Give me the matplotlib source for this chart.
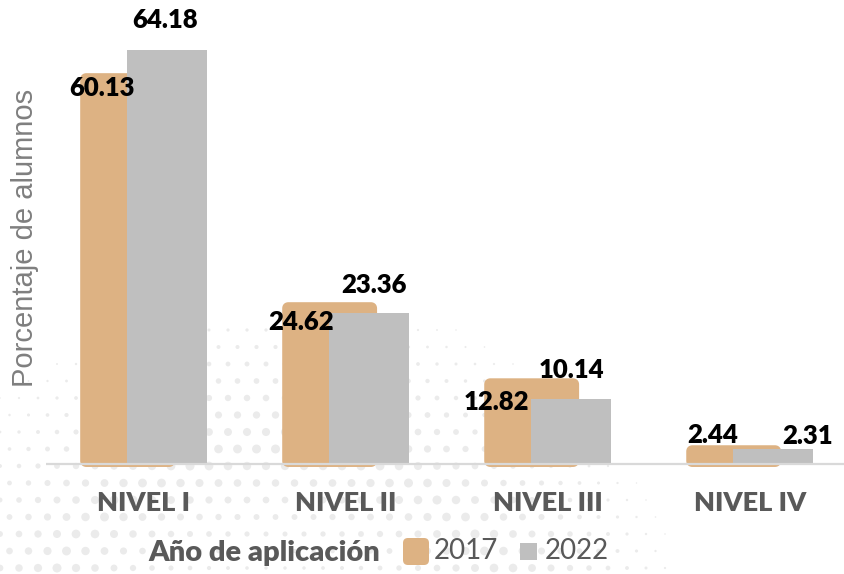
import numpy as np
import matplotlib.pyplot as plt
from matplotlib.patches import FancyBboxPatch, Rectangle

# datos
niveles = ['NIVEL I', 'NIVEL II', 'NIVEL III', 'NIVEL IV']
pct_2017 = [60.13, 24.62, 12.82, 2.44]
pct_2022 = [64.18, 23.36, 10.14, 2.31]
anios = ['2017', '2022']

col_2017 = '#DDB283'
col_2022 = '#BFBFBF'
gris_txt = '#595959'

W, H = 845, 574
fig = plt.figure(figsize=(W / 100, H / 100), dpi=100)

# fondo con puntos (pixeles, origen arriba a la izquierda)
bg = fig.add_axes([0, 0, 1, 1], zorder=0)
bg.set_xlim(0, W)
bg.set_ylim(H, 0)
bg.axis('off')

gx, gy = np.meshgrid(np.arange(0, W, 19.0), np.arange(330, H + 10, 17.0))
gx = gx + (np.arange(gx.shape[0])[:, None] % 2) * 9.5
d = np.hypot(gx - 280, gy - 720)
tam = np.clip(1 - np.abs(d - 270) / 190, 0, 1) * 9
m = tam > 1.5
bg.scatter(gx[m], gy[m], s=(tam[m] * 0.72) ** 2, color='#EBEBEB', lw=0, zorder=0)

# eje principal
y0, y1 = -0.5, 70
left, right = 46, 845
base_px, top_px = 464 + 3.2, 464 - 6.45 * y1
ax = fig.add_axes([left / W, 1 - base_px / H, (right - left) / W, (base_px - top_px) / H], zorder=1)
ax.patch.set_alpha(0)
ax.set_ylim(y0, y1)
ax.set_xlim(-0.483, 3.472)

x = np.arange(len(niveles))
b17 = ax.bar(x - 0.079, pct_2017, width=0.44, color=col_2017, zorder=2)
for p in b17:
    p.set_visible(False)
    ax.add_patch(FancyBboxPatch((p.get_x(), 0), p.get_width(), p.get_height(),
                                boxstyle='round,pad=0,rounding_size=0.016',
                                mutation_aspect=31, fc=col_2017, ec=col_2017,
                                lw=4.3, joinstyle='round', zorder=2))
b22 = ax.bar(x + 0.116, pct_2022, width=0.396, color=col_2022, zorder=3)
ax.axhline(0, color='#D9D9D9', lw=1.6, zorder=4)

for s in ax.spines.values():
    s.set_visible(False)
ax.set_yticks([])
ax.set_xticks(x)
ax.set_xticklabels(niveles, fontsize=19.5, fontweight='heavy', color=gris_txt, family='Lato')
ax.tick_params(axis='x', length=0, pad=17)

# etiquetas de valores (desplazamientos en pixeles)
dx17, dy17 = [-26, -29, -35, -21], [-12, -17, -21, 13]
dx22, dy22 = [-2, 5, 0, 34], [30, 28, 29, 13]
for p, v, dx, dy in zip(b17, pct_2017, dx17, dy17):
    ax.annotate(f'{v:.2f}', xy=(p.get_x() + p.get_width() / 2, v), xytext=(dx, dy),
                textcoords='offset pixels', ha='center', va='center',
                fontsize=18.5, fontweight='heavy', family='Lato', color='black', zorder=5)
for p, v, dx, dy in zip(b22, pct_2022, dx22, dy22):
    ax.annotate(f'{v:.2f}', xy=(p.get_x() + p.get_width() / 2, v), xytext=(dx, dy),
                textcoords='offset pixels', ha='center', va='center',
                fontsize=18.5, fontweight='heavy', family='Lato', color='black', zorder=5)

# titulo del eje y
bg.text(25, 238, 'Porcentaje de alumnos', rotation=90, ha='center', va='center',
        fontsize=21, color='#7F7F7F', family='Liberation Sans')

# leyenda
bg.text(264, 553, 'Año de aplicación', ha='center', va='center',
        fontsize=21, fontweight='heavy', color=gris_txt, family='Lato')
bg.add_patch(FancyBboxPatch((403, 538), 26, 27, boxstyle='round,pad=0,rounding_size=5',
                            fc=col_2017, ec='none'))
bg.text(434, 551, anios[0], ha='left', va='center', fontsize=20, color=gris_txt, family='Lato')
bg.add_patch(Rectangle((520, 543), 17, 17, fc=col_2022, ec='none'))
bg.text(545, 551, anios[1], ha='left', va='center', fontsize=20, color=gris_txt, family='Lato')

fig.savefig('out.png', dpi=100)
